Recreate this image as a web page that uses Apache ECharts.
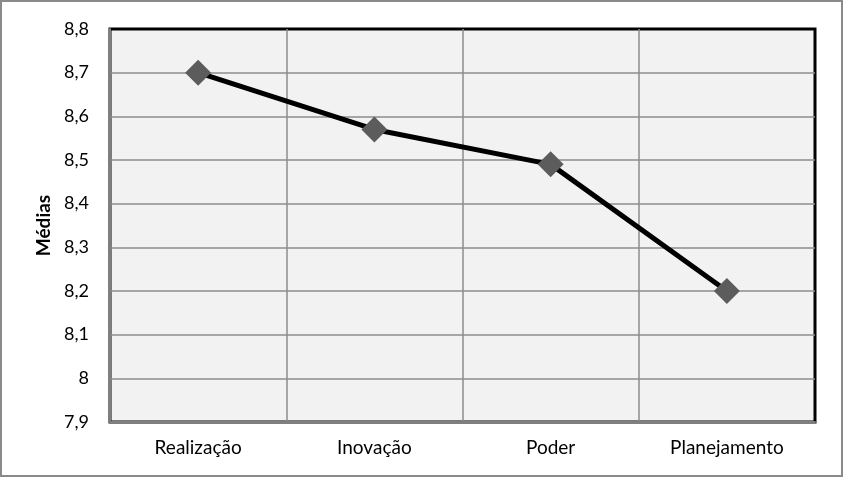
<!DOCTYPE html>
<html>
<head>
<meta charset="utf-8">
<script src="https://cdn.jsdelivr.net/npm/echarts@6/dist/echarts.min.js"></script>
<style>
  html, body { margin: 0; padding: 0; background: #fff; }
  #chart { width: 843px; height: 477px; }
</style>
</head>
<body>
<div id="chart"></div>
<script>
var categories = ['Realização', 'Inovação', 'Poder', 'Planejamento'];
var medias = [8.7, 8.57, 8.49, 8.2];
var yMin = 7.9, yMax = 8.8, yStep = 0.1;
var fontFam = 'Lato, "Open Sans", sans-serif';

var myChart = echarts.init(document.getElementById('chart'));
var option = {
    backgroundColor: '#ffffff',
    animation: false,
    graphic: [
        {
            type: 'rect',
            shape: { x: 1, y: 1, width: 841, height: 475 },
            style: { fill: 'none', stroke: '#8a8a8a', lineWidth: 2 },
            z: 100
        }
    ],
    grid: {
        left: 110,
        top: 29,
        right: 28,
        bottom: 55,
        show: true,
        backgroundColor: '#f2f2f2',
        borderColor: '#000000',
        borderWidth: 3
    },
    xAxis: {
        type: 'category',
        data: categories,
        axisTick: { show: false },
        axisLine: { lineStyle: { color: '#7f7f7f', width: 2 } },
        axisLabel: {
            margin: 16,
            color: '#000',
            fontSize: 19,
            fontFamily: fontFam
        },
        splitLine: {
            show: true,
            showMinLine: false,
            showMaxLine: false,
            lineStyle: { color: '#8c8c8c', width: 1.5 }
        }
    },
    yAxis: {
        type: 'value',
        min: yMin,
        max: yMax,
        interval: yStep,
        name: 'Médias',
        nameLocation: 'middle',
        nameRotate: 90,
        nameGap: 55,
        nameTextStyle: { fontWeight: 'bold', fontSize: 19, color: '#000', fontFamily: fontFam },
        axisTick: { show: false },
        axisLine: { show: true, lineStyle: { color: '#7f7f7f', width: 2 } },
        axisLabel: {
            margin: 21,
            color: '#000',
            fontSize: 18,
            fontFamily: fontFam,
            formatter: function (v) {
                return String(Math.round(v * 10) / 10).replace('.', ',');
            }
        },
        splitLine: {
            show: true,
            showMinLine: false,
            showMaxLine: false,
            lineStyle: { color: '#8c8c8c', width: 1.5 }
        }
    },
    series: [
        {
            type: 'line',
            data: medias,
            symbol: 'diamond',
            symbolSize: 26,
            lineStyle: { color: '#000000', width: 5 },
            itemStyle: { color: '#5c5c5c', borderColor: '#5c5c5c', borderWidth: 0 },
            z: 10
        }
    ]
};
myChart.setOption(option, true);
</script>
</body>
</html>
